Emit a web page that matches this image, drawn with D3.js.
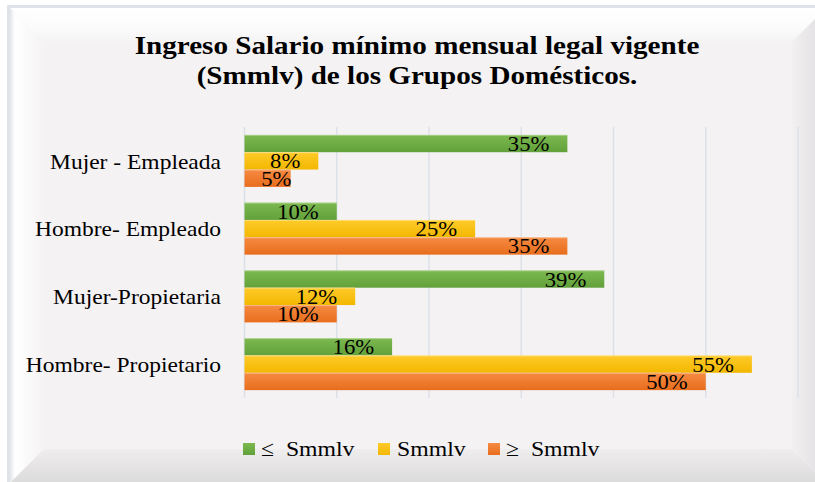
<!DOCTYPE html>
<html>
<head>
<meta charset="utf-8">
<script src="https://cdn.jsdelivr.net/npm/d3@7"></script>
<style>
  body { margin: 0; background: #ffffff; }
  svg text { font-family: "Liberation Serif", "Times New Roman", serif; fill: #000; }
</style>
</head>
<body>
<svg id="chart" width="815" height="482"></svg>
<script>

// data (top group first)
const categories = ['Mujer - Empleada', 'Hombre- Empleado', 'Mujer-Propietaria', 'Hombre- Propietario'];
const seriesNames = ['≤  Smmlv', 'Smmlv', '≥  Smmlv'];
const lessThan    = [0.35, 0.10, 0.39, 0.16];
const equalTo     = [0.08, 0.25, 0.12, 0.55];
const moreThan    = [0.05, 0.35, 0.10, 0.50];
const xTicks      = [0, 0.1, 0.2, 0.3, 0.4, 0.5, 0.6];
const titleLines  = ['Ingreso Salario mínimo mensual legal vigente', '(Smmlv) de los Grupos Domésticos.'];

const seriesValues = [lessThan, equalTo, moreThan];
const colours = [
    { top: '#7cb94f', bottom: '#62a03b' },   // green
    { top: '#ffcb2a', bottom: '#f2b700' },   // yellow
    { top: '#f68b42', bottom: '#e86d1d' }    // orange
];

// the source picture is a little wider than tall, so text is stretched sideways
const STRETCH_BIG = 1.12;   // title + category names
const STRETCH_SMALL = 1.08; // value labels + legend

const svg = d3.select('#chart');
const defs = svg.append('defs');

//-------------------------------------------------------------------------------
// bevelled frame behind everything

function Gradient(id, x1, y1, x2, y2, stops) {
    const g = defs.append('linearGradient').attr('id', id)
        .attr('x1', x1).attr('y1', y1).attr('x2', x2).attr('y2', y2);
    stops.forEach(s => g.append('stop').attr('offset', s[0]).attr('stop-color', s[1]));
}

Gradient('bvTop', 0, 0, 0, 1, [[0, '#ffffff'], [0.6, '#fcfbfc'], [1, '#f5f3f4']]);
Gradient('bvLeft', 0, 0, 1, 0, [[0, '#e4e5e8'], [0.15, '#ffffff'], [1, '#f5f3f4']]);
Gradient('bvBottom', 0, 0, 0, 1, [[0, '#efedee'], [1, '#dcdbdc']]);
Gradient('bvRight', 0, 0, 1, 0, [[0, '#f2f0f1'], [1, '#dedddf']]);

const box = { l: 10, t: 8, r: 826, b: 483, bevel: 34 };

svg.append('rect')
    .attr('x', 7).attr('y', 5).attr('width', 830).attr('height', 500)
    .attr('fill', '#dfe3ea');

svg.append('rect')
    .attr('x', box.l).attr('y', box.t)
    .attr('width', box.r - box.l).attr('height', box.b - box.t)
    .attr('fill', '#f4f2f3');

const bv = box.bevel;
const bevelSides = [
    { fill: 'url(#bvTop)',    pts: [[box.l, box.t], [box.r, box.t], [box.r - bv, box.t + bv], [box.l + bv, box.t + bv]] },
    { fill: 'url(#bvLeft)',   pts: [[box.l, box.t], [box.l + bv, box.t + bv], [box.l + bv, box.b - bv], [box.l, box.b]] },
    { fill: 'url(#bvBottom)', pts: [[box.l, box.b], [box.l + bv, box.b - bv], [box.r - bv, box.b - bv], [box.r, box.b]] },
    { fill: 'url(#bvRight)',  pts: [[box.r, box.t], [box.r, box.b], [box.r - bv, box.b - bv], [box.r - bv, box.t + bv]] }
];

svg.append('g').selectAll('polygon')
    .data(bevelSides)
    .join('polygon')
    .attr('points', d => d.pts.map(p => p.join(',')).join(' '))
    .attr('fill', d => d.fill);

//-------------------------------------------------------------------------------
// scales

const x = d3.scaleLinear().domain([0, 0.6]).range([244.5, 798]);

const y = d3.scaleBand()
    .domain(categories)
    .range([127, 398])
    .paddingInner(0.232)
    .paddingOuter(0.116);

const ySub = d3.scaleBand()
    .domain(d3.range(seriesValues.length))
    .range([0, y.bandwidth()]);

// bar gradients
colours.forEach((c, i) => Gradient('bar' + i, 0, 0, 0, 1, [[0, c.top], [1, c.bottom]]));

//-------------------------------------------------------------------------------
// gridlines

svg.append('g')
    .selectAll('line')
    .data(xTicks)
    .join('line')
    .attr('x1', d => x(d)).attr('x2', d => x(d))
    .attr('y1', 127).attr('y2', 398)
    .attr('stroke', '#dce1e8')
    .attr('stroke-width', 1.5);

//-------------------------------------------------------------------------------
// category axis (labels only)

const yAxis = d3.axisLeft(y).tickSize(0).tickPadding(0);
const yAxisG = svg.append('g')
    .attr('transform', 'translate(221,1)')
    .call(yAxis);
yAxisG.select('.domain').remove();
yAxisG.selectAll('text')
    .style('font-size', '21px')
    .attr('font-family', null)
    .attr('dy', '0.32em')
    .attr('transform', `scale(${STRETCH_BIG},1)`);

//-------------------------------------------------------------------------------
// bars

const barData = [];
categories.forEach((cat, ci) => {
    seriesValues.forEach((vals, si) => barData.push({ cat: cat, series: si, value: vals[ci] }));
});

const barY = d => y(d.cat) + ySub(d.series);

svg.append('g')
    .selectAll('rect')
    .data(barData)
    .join('rect')
    .attr('x', x(0))
    .attr('y', barY)
    .attr('width', d => x(d.value) - x(0))
    .attr('height', ySub.bandwidth())
    .attr('fill', d => 'url(#bar' + d.series + ')');

// thin light edge along the top of each bar
svg.append('g')
    .selectAll('line')
    .data(barData)
    .join('line')
    .attr('x1', x(0)).attr('x2', d => x(d.value))
    .attr('y1', d => barY(d) + 0.5).attr('y2', d => barY(d) + 0.5)
    .attr('stroke', '#ffffff').attr('stroke-opacity', 0.35);

// value labels: right aligned a little inside the bar end
svg.append('g')
    .selectAll('text')
    .data(barData)
    .join('text')
    .attr('transform', d => {
        const lx = Math.max(x(d.value) - 18, x(0) + 47);
        const ly = barY(d) + ySub.bandwidth() / 2 + 7.5;
        return `translate(${lx},${ly}) scale(${STRETCH_SMALL},1)`;
    })
    .attr('text-anchor', 'end')
    .style('font-size', '21px')
    .text(d => d3.format('.0%')(d.value));

//-------------------------------------------------------------------------------
// title

svg.append('g')
    .selectAll('text')
    .data(titleLines)
    .join('text')
    .attr('transform', (d, i) => `translate(417,${54 + i * 30}) scale(${STRETCH_BIG},1)`)
    .attr('text-anchor', 'middle')
    .style('font-size', '26px')
    .style('font-weight', 'bold')
    .text(d => d);

//-------------------------------------------------------------------------------
// legend

const legendX = [243, 378, 488];

const legend = svg.append('g')
    .selectAll('g')
    .data(seriesNames)
    .join('g')
    .attr('transform', (d, i) => `translate(${legendX[i]},443)`);

legend.append('rect')
    .attr('width', 12).attr('height', 12)
    .attr('fill', (d, i) => 'url(#bar' + i + ')');

legend.append('text')
    .attr('transform', (d, i) => `translate(${i == 1 ? 19 : 18},13) scale(${STRETCH_SMALL},1)`)
    .style('font-size', '22px')
    .style('white-space', 'pre')
    .text(d => d);

</script>
</body>
</html>
